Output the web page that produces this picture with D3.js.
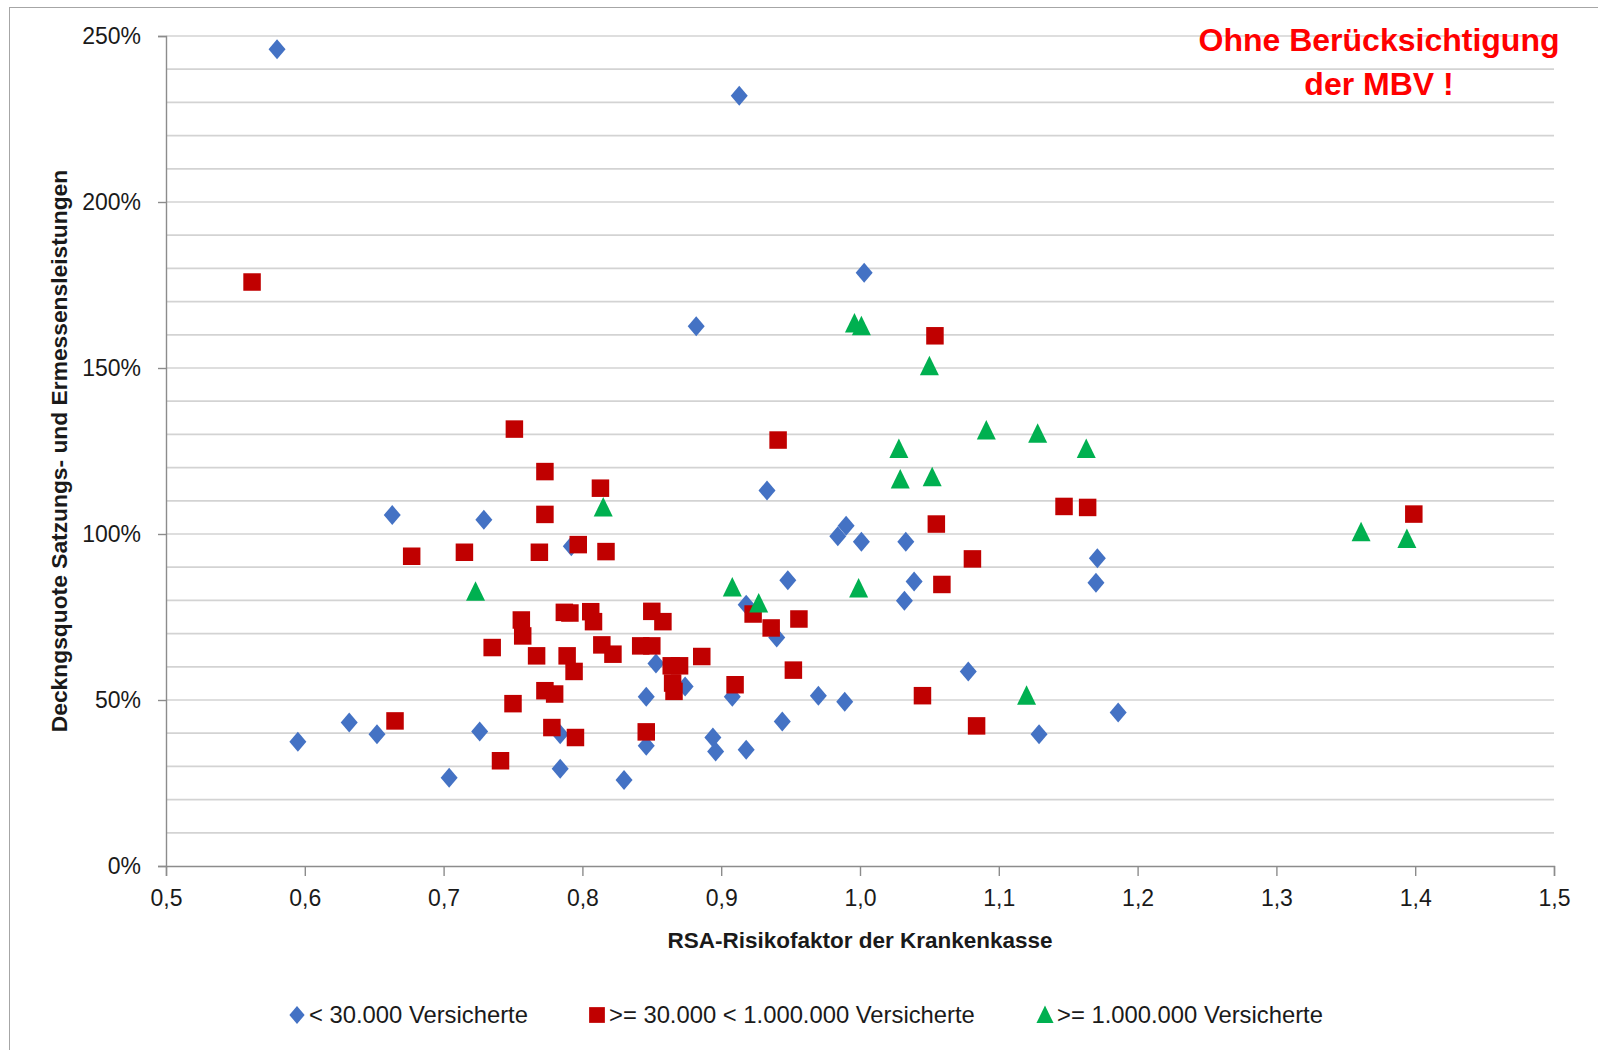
<!DOCTYPE html>
<html>
<head>
<meta charset="utf-8">
<script src="https://cdn.jsdelivr.net/npm/d3@7"></script>
<style>
  body { margin: 0; background: #fff; }
  svg { display: block; font-family: "Liberation Sans", Arial, sans-serif; }
</style>
</head>
<body>
<svg id="grafico" width="1598" height="1050"></svg>
<script>
// dados: [RSA-Risikofaktor, Deckungsquote %]
var klein = [
  [0.580,246.0],[0.913,232.0],[1.003,178.7],[0.882,162.6],
  [0.663,105.7],[0.729,104.3],[0.792,96.3],[0.933,113.1],
  [0.990,102.5],[0.984,99.3],[1.001,97.7],[1.033,97.7],
  [0.948,86.1],[1.039,85.7],[1.032,79.9],[0.918,78.7],
  [0.940,68.8],[0.853,61.0],[0.874,54.1],[0.846,51.0],
  [0.908,51.0],[0.970,51.3],[0.989,49.5],[1.078,58.6],
  [1.171,92.7],[1.170,85.3],[1.186,46.2],[1.129,39.7],
  [0.944,43.5],[0.894,38.7],[0.896,34.5],[0.918,35.0],
  [0.846,36.2],[0.784,39.7],[0.784,29.3],[0.830,25.9],
  [0.704,26.6],[0.726,40.5],[0.632,43.2],[0.652,39.7],[0.595,37.4]
];
var mittel = [
  [0.562,175.9],[1.054,159.7],[0.751,131.6],[0.941,128.3],
  [0.773,118.8],[0.813,113.8],[0.773,105.9],[1.147,108.3],[1.164,108.0],[1.399,106.0],[1.055,103.0],
  [0.677,93.3],[0.715,94.5],[0.769,94.5],[0.797,96.8],[0.817,94.7],[1.081,92.5],[1.059,84.8],
  [0.756,74.1],[0.757,69.3],[0.735,65.8],[0.767,63.3],[0.787,76.4],[0.791,76.2],[0.806,76.6],[0.808,73.6],
  [0.789,63.3],[0.794,58.6],[0.814,66.6],[0.822,63.8],[0.842,66.3],[0.850,66.3],[0.850,76.7],[0.858,73.6],
  [0.886,63.1],[0.864,60.3],[0.870,60.3],[0.865,55.1],[0.866,52.6],[0.773,52.8],[0.780,51.8],[0.750,48.9],
  [0.910,54.6],[0.778,41.7],[0.795,38.7],[0.846,40.4],[0.741,31.7],[0.665,43.7],
  [0.923,75.9],[0.936,71.7],[0.956,74.4],[0.952,59.0],[1.045,51.3],[1.084,42.2]
];
var gross = [
  [0.996,163.4],[1.001,162.6],[1.050,150.5],[1.091,131.2],[1.128,130.2],[1.028,125.6],
  [1.163,125.6],[1.029,116.4],[1.052,117.1],[0.815,108.0],[1.361,100.5],[1.394,98.5],
  [0.723,82.6],[0.908,83.9],[0.999,83.6],[0.927,79.1],[1.120,51.3]
];
var serienNamen = ["< 30.000 Versicherte", ">= 30.000 < 1.000.000 Versicherte", ">= 1.000.000 Versicherte"];
var xTicks = [0.5,0.6,0.7,0.8,0.9,1.0,1.1,1.2,1.3,1.4,1.5];
var yTicks = [0,50,100,150,200,250];
var yGitter = d3.range(10, 251, 10);

var svg = d3.select("#grafico");
var margin = {top: 36, right: 44, bottom: 184, left: 166};
var width = 1598 - margin.left - margin.right;
var height = 1050 - margin.top - margin.bottom;

// moldura do grafico
svg.append("rect")
    .attr("x", 9.5).attr("y", 7.5)
    .attr("width", 1620).attr("height", 1100)
    .attr("fill", "none")
    .attr("stroke", "#a6a6a6");

var g = svg.append("g")
    .attr("transform", "translate(" + margin.left + "," + margin.top + ")");

var x = d3.scaleLinear().domain([0.5, 1.5]).range([0, width]);
var y = d3.scaleLinear().domain([0, 250]).range([height, 0]);

// linhas de grade
g.append("g")
    .selectAll("line")
    .data(yGitter)
    .enter().append("line")
    .attr("x1", 0).attr("x2", width)
    .attr("y1", function(d){ return y(d); })
    .attr("y2", function(d){ return y(d); })
    .attr("stroke", "#d3d3d3")
    .attr("stroke-width", 1.7);

// eixos
var komma = d3.formatLocale({decimal: ",", thousands: ".", grouping: [3], currency: ["", "€"]});
var eixoX = g.append("g")
    .attr("transform", "translate(0," + height + ")")
    .call(d3.axisBottom(x).tickValues(xTicks).tickFormat(komma.format(".1f"))
        .tickSize(10).tickPadding(14));
var eixoY = g.append("g")
    .call(d3.axisLeft(y).tickValues(yTicks).tickFormat(function(d){ return d + "%"; })
        .tickSize(8).tickPadding(17));
[eixoX, eixoY].forEach(function(e){
    e.select(".domain").attr("stroke", "#8c8c8c").attr("stroke-width", 1.4);
    e.selectAll(".tick line").attr("stroke", "#8c8c8c").attr("stroke-width", 1.4);
    e.selectAll(".tick text")
        .attr("fill", "#1a1a1a")
        .style("font-size", "23px")
        .style("font-family", "'Liberation Sans', Arial, sans-serif");
});

// marcadores
var diamante = "M0,-10L8.5,0L0,10L-8.5,0Z";
var quadrado = d3.symbol().type(d3.symbolSquare).size(17.5 * 17.5)();
var triangulo = "M0,-10.5L9.5,9L-9.5,9Z";

function plotaSerie(dados, forma, cor){
    g.append("g")
        .selectAll("path")
        .data(dados)
        .enter().append("path")
        .attr("d", forma)
        .attr("fill", cor)
        .attr("transform", function(d){ return "translate(" + x(d[0]) + "," + y(d[1]) + ")"; });
}
plotaSerie(klein, diamante, "#4472c4");
plotaSerie(mittel, quadrado, "#c00000");
plotaSerie(gross, triangulo, "#00b050");

// titulos dos eixos
svg.append("text")
    .attr("x", margin.left + width / 2)
    .attr("y", 948)
    .attr("text-anchor", "middle")
    .style("font-size", "22.5px")
    .style("font-weight", "bold")
    .attr("fill", "#1a1a1a")
    .text("RSA-Risikofaktor der Krankenkasse");

svg.append("text")
    .attr("transform", "translate(67," + (margin.top + height / 2) + ") rotate(-90)")
    .attr("text-anchor", "middle")
    .style("font-size", "22.8px")
    .style("font-weight", "bold")
    .attr("fill", "#1a1a1a")
    .text("Deckngsquote Satzungs- und Ermessensleistungen");

// aviso vermelho
var aviso = svg.append("text")
    .attr("text-anchor", "middle")
    .style("font-size", "32px")
    .style("font-weight", "bold")
    .attr("fill", "#ff0000");
aviso.append("tspan").attr("x", 1379).attr("y", 51).text("Ohne Berücksichtigung");
aviso.append("tspan").attr("x", 1379).attr("y", 95).text("der MBV !");

// legenda
var legPos = [297, 597, 1045];
var legFormas = [diamante, quadrado, triangulo];
var legCores = ["#4472c4", "#c00000", "#00b050"];
var leg = svg.append("g").selectAll("g")
    .data(serienNamen)
    .enter().append("g")
    .attr("transform", function(d, i){ return "translate(" + legPos[i] + ",1015)"; });
leg.append("path")
    .attr("d", function(d, i){ return legFormas[i]; })
    .attr("fill", function(d, i){ return legCores[i]; })
    .attr("transform", "scale(0.9)");
leg.append("text")
    .attr("x", 12)
    .attr("y", 8)
    .style("font-size", "23.8px")
    .attr("fill", "#1a1a1a")
    .text(function(d){ return d; });
</script>
</body>
</html>
